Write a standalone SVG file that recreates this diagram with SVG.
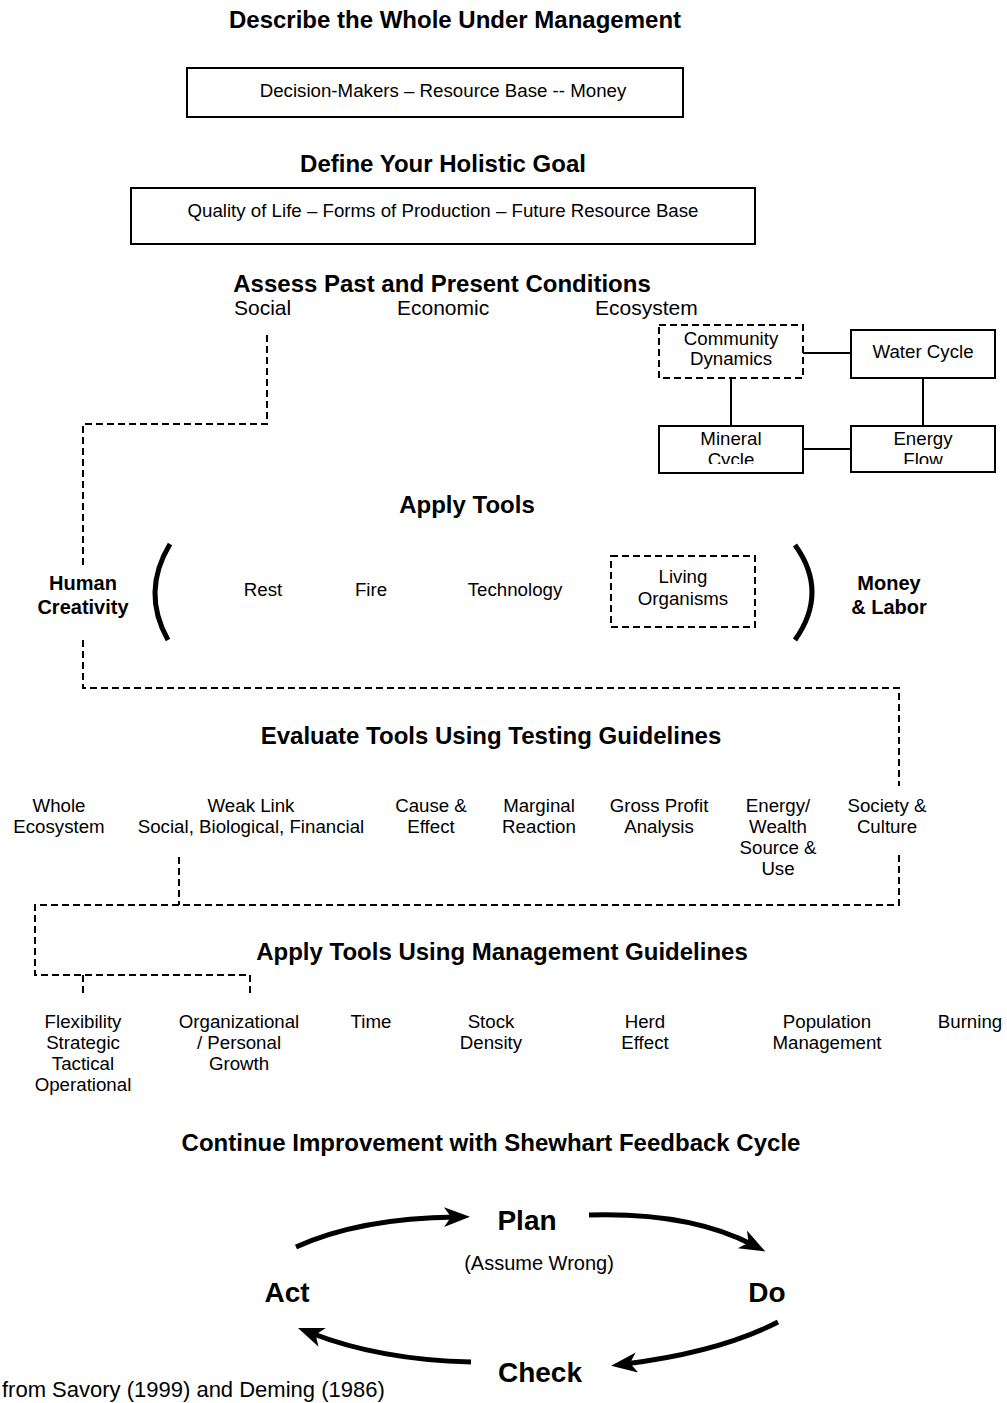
<svg xmlns="http://www.w3.org/2000/svg" width="1007" height="1403" viewBox="0 0 1007 1403">
<style>
text{font-family:"Liberation Sans",Arial,sans-serif;fill:#000;text-anchor:middle}
.h{font-size:24px;font-weight:bold}
.t{font-size:18.7px}
.s{font-size:21px;text-anchor:start}
.b{font-size:20px;font-weight:bold}
.p{font-size:28px;font-weight:bold}
.box{fill:#fff;stroke:#000;stroke-width:2}
.dbox{fill:#fff;stroke:#000;stroke-width:2;stroke-dasharray:7,4}
.ln{fill:none;stroke:#000;stroke-width:2}
.dl{fill:none;stroke:#000;stroke-width:2;stroke-dasharray:7,4}
.br{fill:none;stroke:#000;stroke-width:5}
.ar{fill:none;stroke:#000;stroke-width:5}
</style>
<defs>
<marker id="ah" markerUnits="userSpaceOnUse" markerWidth="28" markerHeight="22" refX="12" refY="10" orient="auto">
<path d="M0,0 L26,10 L0,20 L7,10 z" fill="#000"/>
</marker>
<clipPath id="cm"><rect x="659" y="427" width="144" height="37"/></clipPath>
<clipPath id="ce"><rect x="851" y="427" width="144" height="37"/></clipPath>
</defs>
<rect width="1007" height="1403" fill="#fff"/>

<g id="connectors">
<path class="ln" d="M803,353 H851"/>
<path class="ln" d="M731,378 V426"/>
<path class="ln" d="M923,378 V426"/>
<path class="ln" d="M803,449 H851"/>
<path class="dl" d="M267,335 V424 H83 V568"/>
<path class="dl" d="M83,640 V688 H899 V786"/>
<path class="dl" d="M899,855 V905 H35 V975 H250 V997"/>
<path class="dl" d="M179,857 V905"/>
<path class="dl" d="M83,975 V997"/>
<path class="ar" d="M296,1247 Q360,1218 456,1217" marker-end="url(#ah)"/>
<path class="ar" d="M589,1215 Q690,1212 753,1245" marker-end="url(#ah)"/>
<path class="ar" d="M778,1322 Q720,1352 625,1364" marker-end="url(#ah)"/>
<path class="ar" d="M471,1362 Q380,1360 311,1333" marker-end="url(#ah)"/>
</g>

<g id="describe">
<text class="h" x="455" y="28">Describe the Whole Under Management</text>
<rect class="box" x="187" y="68" width="496" height="49"/>
<text class="t" x="443" y="97">Decision-Makers – Resource Base -- Money</text>
</g>

<g id="goal">
<text class="h" x="443" y="172">Define Your Holistic Goal</text>
<rect class="box" x="131" y="188" width="624" height="56"/>
<text class="t" x="443" y="217">Quality of Life – Forms of Production – Future Resource Base</text>
</g>

<g id="assess">
<text class="h" x="442" y="292">Assess Past and Present Conditions</text>
<text class="s" x="234" y="315">Social</text>
<text class="s" x="397" y="315">Economic</text>
<text class="s" x="595" y="315">Ecosystem</text>
</g>

<g id="community-dynamics">
<rect class="dbox" x="659" y="325" width="144" height="53"/>
<text class="t" x="731" y="345">Community</text>
<text class="t" x="731" y="365">Dynamics</text>
</g>
<g id="water-cycle">
<rect class="box" x="851" y="330" width="144" height="48"/>
<text class="t" x="923" y="358">Water Cycle</text>
</g>
<g id="mineral-cycle">
<rect class="box" x="659" y="426" width="144" height="47"/>
<g clip-path="url(#cm)">
<text class="t" x="731" y="445">Mineral</text>
<text class="t" x="731" y="466">Cycle</text>
</g>
</g>
<g id="energy-flow">
<rect class="box" x="851" y="426" width="144" height="46"/>
<g clip-path="url(#ce)">
<text class="t" x="923" y="445">Energy</text>
<text class="t" x="923" y="466">Flow</text>
</g>
</g>

<g id="apply-tools">
<text class="h" x="467" y="513">Apply Tools</text>
<text class="b" x="83" y="590">Human</text>
<text class="b" x="83" y="614">Creativity</text>
<path class="br" d="M170,544 Q141,592 168,640"/>
<text class="t" x="263" y="596">Rest</text>
<text class="t" x="371" y="596">Fire</text>
<text class="t" x="515" y="596">Technology</text>
<path class="br" d="M795,545 Q829,592 795,640"/>
<text class="b" x="889" y="590">Money</text>
<text class="b" x="889" y="614">&amp; Labor</text>
</g>
<g id="living-organisms">
<rect class="dbox" x="611" y="556" width="144" height="71"/>
<text class="t" x="683" y="583">Living</text>
<text class="t" x="683" y="605">Organisms</text>
</g>

<g id="evaluate">
<text class="h" x="491" y="744">Evaluate Tools Using Testing Guidelines</text>
<text class="t" x="59" y="812">Whole</text>
<text class="t" x="59" y="833">Ecosystem</text>
<text class="t" x="251" y="812">Weak Link</text>
<text class="t" x="251" y="833">Social, Biological, Financial</text>
<text class="t" x="431" y="812">Cause &amp;</text>
<text class="t" x="431" y="833">Effect</text>
<text class="t" x="539" y="812">Marginal</text>
<text class="t" x="539" y="833">Reaction</text>
<text class="t" x="659" y="812">Gross Profit</text>
<text class="t" x="659" y="833">Analysis</text>
<text class="t" x="778" y="812">Energy/</text>
<text class="t" x="778" y="833">Wealth</text>
<text class="t" x="778" y="854">Source &amp;</text>
<text class="t" x="778" y="875">Use</text>
<text class="t" x="887" y="812">Society &amp;</text>
<text class="t" x="887" y="833">Culture</text>
</g>

<g id="management">
<text class="h" x="502" y="960">Apply Tools Using Management Guidelines</text>
<text class="t" x="83" y="1028">Flexibility</text>
<text class="t" x="83" y="1049">Strategic</text>
<text class="t" x="83" y="1070">Tactical</text>
<text class="t" x="83" y="1091">Operational</text>
<text class="t" x="239" y="1028">Organizational</text>
<text class="t" x="239" y="1049">/ Personal</text>
<text class="t" x="239" y="1070">Growth</text>
<text class="t" x="371" y="1028">Time</text>
<text class="t" x="491" y="1028">Stock</text>
<text class="t" x="491" y="1049">Density</text>
<text class="t" x="645" y="1028">Herd</text>
<text class="t" x="645" y="1049">Effect</text>
<text class="t" x="827" y="1028">Population</text>
<text class="t" x="827" y="1049">Management</text>
<text class="t" x="970" y="1028">Burning</text>
</g>

<g id="shewhart">
<text class="h" x="491" y="1151">Continue Improvement with Shewhart Feedback Cycle</text>
<text class="p" x="527" y="1230">Plan</text>
<text class="b" x="539" y="1270" style="font-weight:normal">(Assume Wrong)</text>
<text class="p" x="287" y="1302">Act</text>
<text class="p" x="767" y="1302">Do</text>
<text class="p" x="540" y="1382">Check</text>
</g>

<g id="source">
<text class="t" x="2" y="1397" style="text-anchor:start;font-size:22px">from Savory (1999) and Deming (1986)</text>
</g>
</svg>
